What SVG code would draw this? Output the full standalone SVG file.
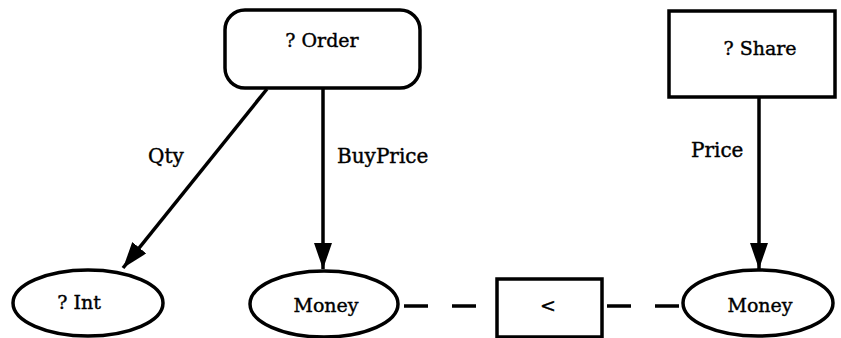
<svg xmlns="http://www.w3.org/2000/svg" width="841" height="338" viewBox="0 0 841 338">
<style>
.shape{fill:#fff;stroke:#000;stroke-width:3.5}
.t{font-family:"DejaVu Serif","Liberation Serif",serif;font-size:19px;fill:#000;stroke:#000;stroke-width:0.4;text-anchor:middle}
.lbl{font-family:"DejaVu Serif","Liberation Serif",serif;font-size:20px;fill:#000;stroke:#000;stroke-width:0.4}
.edge{stroke:#000;stroke-width:3.5;fill:none}
.dash{stroke:#000;stroke-width:3.5;fill:none;stroke-dasharray:24 24}
</style>
<defs>
<marker id="arr" markerUnits="userSpaceOnUse" markerWidth="26" markerHeight="18" refX="26" refY="9" orient="auto" viewBox="0 0 26 18">
<path d="M0,0 L26,9 L0,18 Z" fill="#000"/>
</marker>
</defs>
<rect width="841" height="338" fill="#fff"/>
<g id="connectors">
<line class="edge" x1="267" y1="89" x2="123" y2="268" marker-end="url(#arr)"/>
<line class="edge" x1="323" y1="89" x2="323" y2="269" marker-end="url(#arr)"/>
<line class="edge" x1="759" y1="97" x2="759" y2="269" marker-end="url(#arr)"/>
<line class="dash" x1="404" y1="306" x2="496" y2="306"/>
<line class="dash" x1="607" y1="306" x2="683" y2="306"/>
<text class="lbl" x="148" y="163">Qty</text>
<text class="lbl" x="337" y="163">BuyPrice</text>
<text class="lbl" x="691" y="157">Price</text>
</g>
<g id="order">
<rect class="shape" x="225" y="10" width="195" height="78" rx="20" ry="20"/>
<text class="t" x="322" y="47">? Order</text>
</g>
<g id="share">
<rect class="shape" x="669" y="11" width="166" height="86"/>
<text class="t" x="760" y="55">? Share</text>
</g>
<g id="int">
<ellipse class="shape" cx="88" cy="303" rx="75" ry="33"/>
<text class="t" x="79" y="309">? Int</text>
</g>
<g id="money1">
<ellipse class="shape" cx="324" cy="304" rx="74" ry="33"/>
<text class="t" x="326" y="312">Money</text>
</g>
<g id="lt">
<rect class="shape" x="497" y="279" width="105" height="58"/>
<text class="t" x="548" y="312">&lt;</text>
</g>
<g id="money2">
<ellipse class="shape" cx="758" cy="303" rx="75" ry="33"/>
<text class="t" x="760" y="312">Money</text>
</g>
</svg>
